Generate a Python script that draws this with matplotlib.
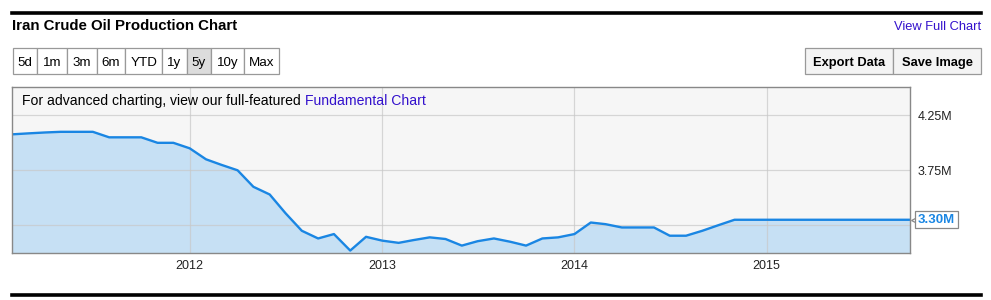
import matplotlib.pyplot as plt
import matplotlib.dates as mdates
from matplotlib.patches import Rectangle
from matplotlib.transforms import blended_transform_factory
import pandas as pd

plt.rcParams['font.family'] = ['Liberation Sans', 'DejaVu Sans']

# monthly production, million barrels per day (month start)
dates = pd.date_range('2011-01-01', '2015-10-01', freq='MS')
production = [
    4.075, 4.078, 4.086, 4.094, 4.100, 4.100, 4.100, 4.050, 4.050, 4.050, 4.000, 4.000,  # 2011
    3.950, 3.850, 3.800, 3.750, 3.600, 3.530, 3.360, 3.200, 3.130, 3.170, 3.020, 3.145,  # 2012
    3.110, 3.090, 3.115, 3.140, 3.125, 3.065, 3.105, 3.130, 3.100, 3.065, 3.130, 3.140,  # 2013
    3.170, 3.275, 3.260, 3.230, 3.230, 3.230, 3.155, 3.155, 3.200, 3.250, 3.300, 3.300,  # 2014
    3.300, 3.300, 3.300, 3.300, 3.300, 3.300, 3.300, 3.300, 3.300, 3.300,  # 2015
]
last_value = production[-1]
y_ticks = [3.25, 3.75, 4.25]
y_labels = ['', '3.75M', '4.25M']
range_buttons = ['5d', '1m', '3m', '6m', 'YTD', '1y', '5y', '10y', 'Max']
active_button = '5y'
title = 'Iran Crude Oil Production Chart'

W, H = 991, 300
fig = plt.figure(figsize=(W / 100, H / 100), dpi=100)


def fx(px):
    return px / W


def fy(py):
    return 1 - py / H


line_color = '#1a86e3'
fill_color = '#c6e0f4'
link_color = '#3311cc'

# top and bottom rules
fig.add_artist(plt.Line2D([fx(12), fx(981)], [fy(12.5), fy(12.5)], color='black', lw=2.6))
fig.add_artist(plt.Line2D([fx(12), fx(981)], [fy(294.5), fy(294.5)], color='black', lw=2.6))

fig.text(fx(12), fy(26), title, fontsize=10.8, fontweight='bold', va='center', ha='left')
fig.text(fx(981), fy(27), 'View Full Chart', fontsize=9.3, color=link_color, va='center', ha='right')

# range buttons
edges = [12.7, 37.3, 67.3, 96.7, 125.3, 162.3, 186.7, 211.3, 243.7, 279.3]
for i, lab in enumerate(range_buttons):
    x0, x1 = edges[i], edges[i + 1]
    fc = '#dcdcdc' if lab == active_button else 'white'
    fig.add_artist(Rectangle((fx(x0), fy(74)), fx(x1 - x0), 26 / H, fc=fc, ec='#999999', lw=0.9))
    fig.text(fx((x0 + x1) / 2), fy(66), lab, fontsize=9.6, ha='center', va='baseline')

# export / save buttons
for x0, x1, lab in [(805.3, 893.3, 'Export Data'), (893.3, 980.7, 'Save Image')]:
    fig.add_artist(Rectangle((fx(x0), fy(73.5)), fx(x1 - x0), 25.5 / H, fc='#f4f4f4', ec='#999999', lw=0.9))
    fig.text(fx((x0 + x1) / 2), fy(66), lab, fontsize=9.3, fontweight='bold', ha='center', va='baseline')

# chart
ax = fig.add_axes([fx(12.3), fy(253.3), fx(898), 166 / H])
ax.set_facecolor('#f6f6f6')
ax.fill_between(dates, production, 0, color=fill_color, lw=0, zorder=1)
ax.plot(dates, production, color=line_color, lw=1.7, zorder=3, solid_joinstyle='round')

ax.set_xlim(pd.Timestamp('2011-01-29'), pd.Timestamp('2015-10-01'))
ax.set_ylim(2.995, 4.505)
ax.xaxis.set_major_locator(mdates.YearLocator())
ax.xaxis.set_major_formatter(mdates.DateFormatter('%Y'))
ax.yaxis.tick_right()
ax.set_yticks(y_ticks)
ax.set_yticklabels(y_labels)
ax.tick_params(axis='both', length=0, labelsize=9, colors='#222222')
ax.tick_params(axis='x', pad=5)
ax.tick_params(axis='y', pad=5)
ax.grid(True, color='#c8c8c8', lw=0.9, alpha=0.7, zorder=2)
ax.set_axisbelow(False)
for s in ax.spines.values():
    s.set_color('#888888')
    s.set_linewidth(1)
    s.set_zorder(4)

t1 = ax.text(0.011, 0.893, 'For advanced charting, view our full-featured', transform=ax.transAxes,
             fontsize=10.1, ha='left', va='baseline', zorder=5)
ax.annotate('Fundamental Chart', xy=(1, 0), xycoords=t1, xytext=(3, 0), textcoords='offset points',
            fontsize=10.1, color=link_color, ha='left', va='bottom', zorder=5)

# last value flag
tr = blended_transform_factory(ax.transAxes, ax.transData)
ax.plot([1.004], [last_value], marker='<', ms=5, mfc='white', mec='#888888', mew=0.9,
        transform=tr, clip_on=False, zorder=6)
ax.text(1.0085, last_value, f'{last_value:.2f}M', transform=tr, fontsize=9.5, fontweight='bold',
        color=line_color, ha='left', va='center', clip_on=False, zorder=7,
        bbox=dict(boxstyle='square,pad=0.2', fc='white', ec='#888888', lw=0.9))

fig.savefig('out.png', dpi=100)
